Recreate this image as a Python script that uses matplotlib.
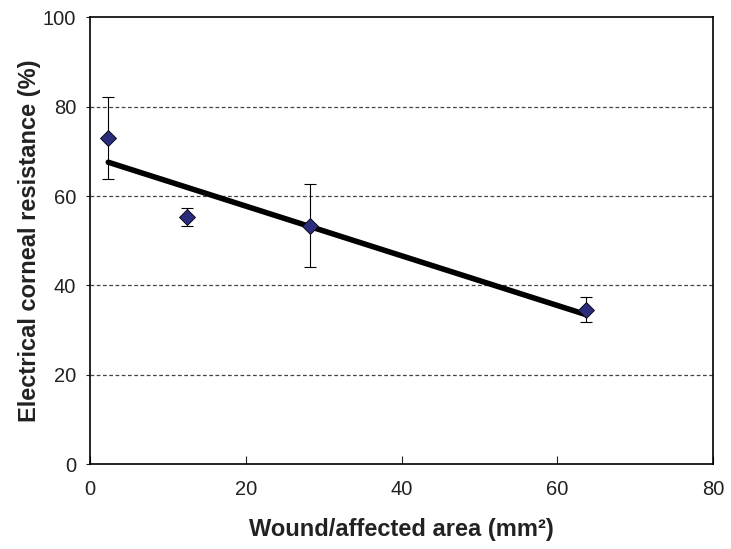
import numpy as np
import matplotlib
matplotlib.use("Agg")
import matplotlib.pyplot as plt

plt.rcParams["font.family"] = ["Liberation Sans", "DejaVu Sans"]

# wound area (mm2) vs electrical corneal resistance (%)
area = [2.35, 12.5, 28.2, 63.7]
resist = [73.0, 55.3, 53.4, 34.5]
err_hi = [82.1, 57.3, 62.7, 37.5]
err_lo = [63.8, 53.2, 44.1, 31.9]

x = np.array(area)
y = np.array(resist)
yerr = [y - np.array(err_lo), np.array(err_hi) - y]

# linear trend line
k, b = np.polyfit(x, y, 1)
xt = np.array([x.min(), x.max()])

fig = plt.figure(figsize=(7.31, 5.49), dpi=100)
ax = fig.add_axes([0.1231, 0.1543, 0.8523, 0.8142])

for g in [20, 40, 60, 80]:
    ax.axhline(g, color="#444444", lw=0.9, ls=(0, (3, 2)), zorder=1)

ax.plot(xt, k * xt + b, color="black", lw=4, solid_capstyle="round", zorder=2)
ax.errorbar(x, y, yerr=yerr, fmt="none", ecolor="black", elinewidth=0.8,
            capsize=4, capthick=0.8, zorder=3)
ax.plot(x, y, ls="none", marker="D", ms=8.5, mfc="#2b2d7c", mec="black",
        mew=0.6, zorder=4)

ax.set_xlim(0, 80)
ax.set_ylim(0, 100)
ax.set_xticks([0, 20, 40, 60, 80])
ax.set_yticks([0, 20, 40, 60, 80, 100])
ax.tick_params(axis="x", direction="in", length=6, width=0.8, labelsize=14.5,
               pad=11, colors="#222222")
ax.tick_params(axis="y", direction="out", length=3, width=0.8, labelsize=14.5,
               pad=7, colors="#222222")
for s in ax.spines.values():
    s.set_linewidth(1.2)

ax.set_xlabel("Wound/affected area (mm²)", fontsize=17, fontweight="bold",
              labelpad=14, color="#222222")
ax.set_ylabel("Electrical corneal resistance (%)", fontsize=17, fontweight="bold",
              labelpad=1, color="#222222")

fig.savefig("out.png", dpi=100)
